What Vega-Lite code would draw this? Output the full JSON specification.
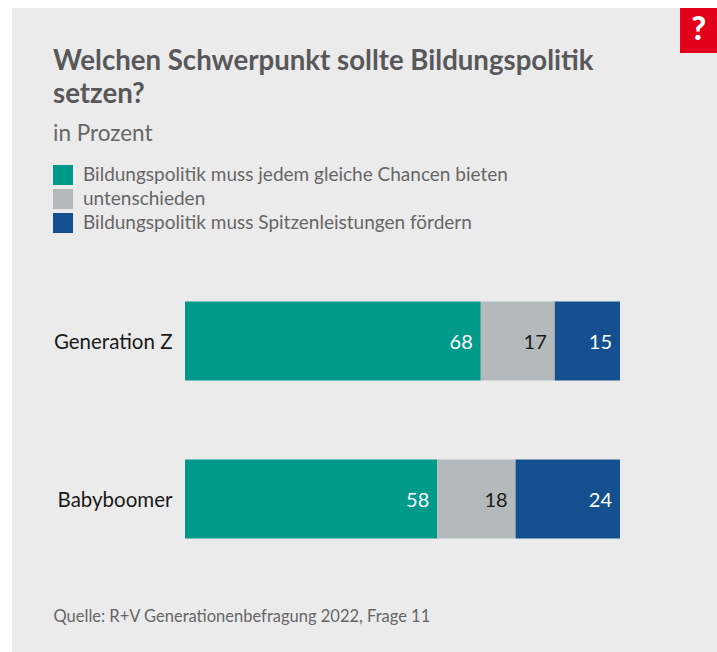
{"$schema":"https://vega.github.io/schema/vega-lite/v6.json","width":705,"height":644,"autosize":"none","padding":{"left":12,"top":8,"right":0,"bottom":0},"background":"white","config":{"view":{"stroke":null,"fill":"#ececec"},"font":"Lato"},"title":{"text":["Welchen Schwerpunkt sollte Bildungspolitik","setzen?"],"subtitle":"in Prozent","anchor":"start","frame":"group","orient":"top","dx":41,"offset":-137,"font":"Lato","fontSize":27.6,"fontWeight":700,"color":"#58585a","lineHeight":33,"subtitleFont":"Lato","subtitleFontSize":22.5,"subtitleColor":"#666666","subtitlePadding":14},"data":{"values":[{"Gruppe":"Generation Z","Antwort":"Bildungspolitik muss jedem gleiche Chancen bieten","Anteil":68,"Rang":1},{"Gruppe":"Generation Z","Antwort":"untenschieden","Anteil":17,"Rang":2},{"Gruppe":"Generation Z","Antwort":"Bildungspolitik muss Spitzenleistungen fördern","Anteil":15,"Rang":3},{"Gruppe":"Babyboomer","Antwort":"Bildungspolitik muss jedem gleiche Chancen bieten","Anteil":58,"Rang":1},{"Gruppe":"Babyboomer","Antwort":"untenschieden","Anteil":18,"Rang":2},{"Gruppe":"Babyboomer","Antwort":"Bildungspolitik muss Spitzenleistungen fördern","Anteil":24,"Rang":3}]},"resolve":{"scale":{"y":"independent"}},"layer":[{"data":{"values":[{}]},"mark":{"type":"rect","color":"#ebebeb"},"encoding":{"x":{"datum":-33.5,"type":"quantitative"},"x2":{"datum":105.7},"y":{"datum":22,"type":"quantitative","scale":{"domain":[0,644],"reverse":true},"axis":null},"y2":{"datum":626}}},{"data":{"values":[{}]},"mark":{"type":"rect","color":"#e2001a"},"encoding":{"x":{"datum":113.8,"type":"quantitative"},"x2":{"datum":122.3},"y":{"datum":0,"type":"quantitative","scale":{"domain":[0,644],"reverse":true},"axis":null},"y2":{"datum":45}}},{"data":{"values":[{}]},"mark":{"type":"text","color":"white","font":"Lato","fontWeight":900,"fontSize":32},"encoding":{"text":{"value":"?"},"x":{"datum":118.1,"type":"quantitative"},"y":{"datum":22,"type":"quantitative","scale":{"domain":[0,644],"reverse":true},"axis":null}}},{"mark":{"type":"bar","stroke":null},"encoding":{"x":{"field":"Anteil","type":"quantitative","stack":"zero","scale":{"domain":[-39.77,122.3],"nice":false,"zero":false},"axis":{"title":"Quelle: R+V Generationenbefragung 2022, Frage 11","labels":false,"ticks":false,"domain":false,"grid":false,"zindex":1,"titleX":41,"titleY":-36,"titleAlign":"left","titleAnchor":"start","titleBaseline":"middle","titleFont":"Lato","titleFontSize":16.5,"titleFontWeight":400,"titleColor":"#666666"}},"y":{"field":"Gruppe","type":"nominal","sort":null,"scale":{"domain":["Generation Z","Babyboomer"],"range":[293.5,530.5],"paddingInner":0.5,"paddingOuter":0},"axis":{"title":null,"orient":"left","offset":-160,"labelPadding":0,"labelOffset":1.5,"ticks":false,"domain":false,"grid":false,"zindex":1,"labelFont":"Lato","labelFontSize":20.5,"labelColor":"#1a1a1a"}},"color":{"field":"Antwort","type":"nominal","scale":{"domain":["Bildungspolitik muss jedem gleiche Chancen bieten","untenschieden","Bildungspolitik muss Spitzenleistungen fördern"],"range":["#009a8a","#b4babc","#14508f"]},"legend":{"orient":"none","legendX":41,"legendY":157,"title":null,"symbolType":"square","symbolSize":400,"symbolStrokeWidth":0,"symbolOpacity":1,"rowPadding":4,"labelOffset":10,"labelLimit":600,"labelFont":"Lato","labelFontSize":19,"labelColor":"#666666"}},"order":{"field":"Rang"}}},{"mark":{"type":"text","align":"right","dx":-8,"dy":1.5,"font":"Lato","fontSize":20},"encoding":{"x":{"field":"Anteil","type":"quantitative","stack":"zero"},"y":{"field":"Gruppe","type":"nominal","sort":null,"scale":{"type":"band","domain":["Generation Z","Babyboomer"],"range":[293.5,530.5],"paddingInner":0.5,"paddingOuter":0},"axis":null},"detail":{"field":"Antwort"},"order":{"field":"Rang"},"text":{"field":"Anteil","type":"quantitative"},"color":{"condition":{"test":"datum.Antwort === 'untenschieden'","value":"#1a1a1a"},"value":"#ffffff"}}}]}
